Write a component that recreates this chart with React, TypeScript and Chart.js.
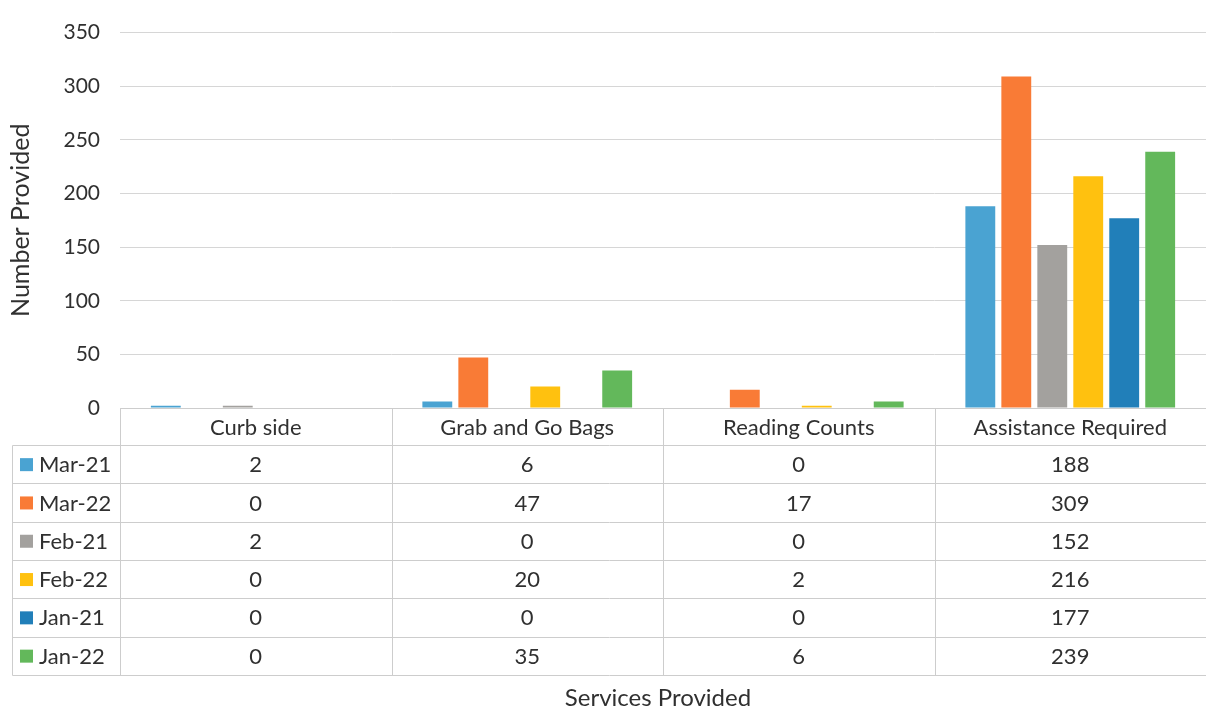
import React, { useEffect, useRef } from "react";
import { Chart, registerables } from "chart.js";

Chart.register(...registerables);

const categories = ["Curb side", "Grab and Go Bags", "Reading Counts", "Assistance Required"];
const seriesNames = ["Mar-21", "Mar-22", "Feb-21", "Feb-22", "Jan-21", "Jan-22"];
const mar21 = [2, 6, 0, 188];
const mar22 = [0, 47, 17, 309];
const feb21 = [2, 0, 0, 152];
const feb22 = [0, 20, 2, 216];
const jan21 = [0, 0, 0, 177];
const jan22 = [0, 35, 6, 239];
const seriesValues = [mar21, mar22, feb21, feb22, jan21, jan22];
const seriesColors = ["#4aa3d2", "#f97b36", "#a3a19e", "#ffc10f", "#217fb9", "#63b85b"];
const yTicks = [0, 50, 100, 150, 200, 250, 300, 350];

const FONT = "Lato, 'Open Sans', sans-serif";
const TEXT = "#303030";

const tablePlugin = {
  id: "dataTable",
  afterDraw(chart: any) {
    const { ctx, chartArea, scales } = chart;
    const x = scales.x;
    const top = chartArea.bottom;
    const headerH = 37;
    const rowH = 38.3;
    const legendLeft = 12;
    const left = chartArea.left;
    const right = chartArea.right;
    const bottom = top + headerH + rowH * seriesNames.length;
    const bounds = categories.map((_, i) => x.getPixelForValue(i - 0.5));
    bounds.push(right);
    bounds[0] = left;

    ctx.save();
    ctx.strokeStyle = "#cdcdcd";
    ctx.lineWidth = 1;
    const line = (x1: number, y1: number, x2: number, y2: number) => {
      ctx.beginPath();
      ctx.moveTo(Math.round(x1) + 0.5, Math.round(y1) + 0.5);
      ctx.lineTo(Math.round(x2) + 0.5, Math.round(y2) + 0.5);
      ctx.stroke();
    };
    line(left, top, right, top);
    for (let i = 0; i <= seriesNames.length; i++) {
      const y = top + headerH + i * rowH;
      line(legendLeft, y, right, y);
    }
    line(legendLeft, top + headerH, legendLeft, bottom);
    bounds.forEach((bx: number) => line(bx, top, bx, bottom));

    ctx.fillStyle = TEXT;
    ctx.font = `22px ${FONT}`;
    ctx.textAlign = "center";
    ctx.textBaseline = "middle";
    categories.forEach((c, i) => {
      const cx = x.getPixelForValue(i);
      ctx.fillText(c, cx, top + headerH / 2 + 1);
    });
    seriesNames.forEach((name, r) => {
      const cy = top + headerH + r * rowH + rowH / 2 + 1;
      ctx.fillStyle = seriesColors[r];
      ctx.fillRect(legendLeft + 8, cy - 7, 13, 13);
      ctx.fillStyle = TEXT;
      ctx.textAlign = "left";
      ctx.fillText(name, legendLeft + 27, cy);
      ctx.textAlign = "center";
      seriesValues[r].forEach((v, i) => {
        ctx.fillText(String(v), x.getPixelForValue(i), cy);
      });
    });

    ctx.font = `24px ${FONT}`;
    ctx.fillText("Services Provided", (left + right) / 2 - 5, 698);
    ctx.restore();
  },
};

export default function App() {
  const ref = useRef<HTMLCanvasElement>(null);
  useEffect(() => {
    document.body.style.margin = "0";
    const chart = new Chart(ref.current as HTMLCanvasElement, {
      type: "bar",
      data: {
        labels: categories,
        datasets: seriesNames.map((n, i) => ({
          label: n,
          data: seriesValues[i],
          backgroundColor: seriesColors[i],
          categoryPercentage: 0.795,
          barPercentage: 0.83,
        })),
      },
      options: {
        responsive: false,
        animation: false,
        layout: { padding: { top: 24, bottom: 307, left: 0, right: 0 } },
        plugins: { legend: { display: false }, tooltip: { enabled: false }, title: { display: false } },
        scales: {
          x: { display: false },
          y: {
            min: 0,
            max: 350,
            afterFit: (s: any) => {
              s.width = 120;
            },
            afterBuildTicks: (s: any) => {
              s.ticks = yTicks.map((v) => ({ value: v }));
            },
            ticks: { padding: 20, color: TEXT, font: { family: FONT, size: 21 } },
            grid: { color: "#d6d6d6", drawTicks: false },
            border: { display: false },
            title: {
              display: true,
              text: "Number Provided",
              color: TEXT,
              font: { family: FONT, size: 25 },
              padding: { top: 6, bottom: 0 },
            },
          },
        },
      },
      plugins: [tablePlugin],
    });
    return () => chart.destroy();
  }, []);
  return (
    <div style={{ width: 1206, height: 715, background: "#fff" }}>
      <canvas ref={ref} width={1206} height={715} />
    </div>
  );
}
